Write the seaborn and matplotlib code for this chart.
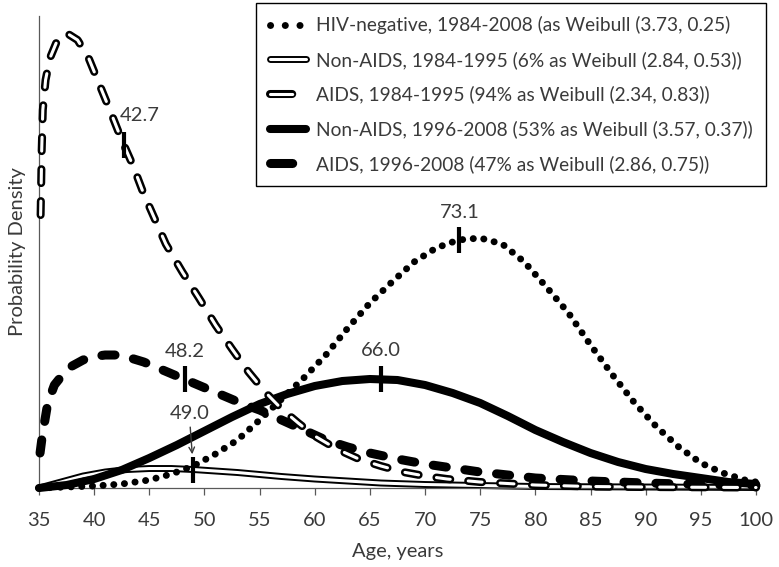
import numpy as np
import pandas as pd
import matplotlib
matplotlib.use("Agg")
import matplotlib.pyplot as plt
from matplotlib.lines import Line2D
import seaborn as sns

# ---------------- data (density in arbitrary units) ----------------
hivneg_age = [35, 40, 42.5, 45, 47, 49, 51, 53, 55, 57, 59, 61, 63, 65, 67, 69, 71, 73, 75,
              77, 79, 81, 83, 85, 87, 89, 91, 93, 95, 97, 99, 100]
hivneg_den = [0, 2, 4, 8, 14, 22, 34, 48, 68, 89, 110, 133, 160, 185, 206, 226, 240, 248, 250,
              244, 226, 201, 175, 143, 113, 85, 61, 41, 25, 15, 8, 6]

nonaids84_age = [35, 37, 39, 41, 43, 45, 47, 49, 51, 53, 55, 57, 60, 63, 66, 70, 75, 80, 90, 100]
nonaids84_den = [0, 6, 12, 16, 18.5, 19.5, 19.5, 18.5, 17, 15.5, 13.5, 11.5, 9, 7, 5, 3.5, 2.5,
                 1.5, 1, 0.5]

aids84_age = [35.15, 35.2, 35.25, 35.35, 35.6, 36, 36.6, 37.5, 38.5, 39.5, 40.5, 41.5, 42.5,
              43.5, 44.5, 45.5, 46.5, 48, 49.5, 51, 52.5, 54, 55.5, 57, 58.5, 60, 62, 64, 66,
              68, 70, 72, 75, 80, 85, 90, 100]
aids84_den = [273, 303, 338, 378, 408, 430, 446, 455, 448, 430, 403, 376, 348, 323, 294, 269,
              244, 216, 190, 163, 139, 116, 96, 79, 65, 52, 39, 29, 22, 16, 12, 9, 6, 3, 1.5,
              1, 0.5]

nonaids96_age = [35, 37.5, 40, 42.5, 45, 47.5, 50, 52.5, 55, 57.5, 60, 62.5, 65, 67.5, 70, 72.5,
                 75, 77.5, 80, 82.5, 85, 87.5, 90, 92.5, 95, 97.5, 100]
nonaids96_den = [0, 3, 9, 18, 30, 43, 57, 71, 84, 94, 102, 107, 109, 108, 103, 95, 85, 72, 58,
                 46, 35, 26, 19, 14, 10, 6, 4]

aids96_age = [35.1, 35.3, 35.8, 36.4, 37.2, 38, 39, 40, 41, 42, 43, 44.5, 46, 47.5, 49, 50.5,
              52, 53.5, 55, 57, 59, 61, 63, 65, 67.5, 70, 72.5, 75, 77.5, 80, 85, 90, 95, 100]
aids96_den = [35, 52, 85, 103, 114, 122, 128, 131.5, 133, 133, 131, 126, 119, 112, 105, 98, 91,
              84, 78, 68, 58, 48, 41, 35, 29, 24, 20, 16, 13, 10, 7, 5, 3.5, 2.5]

labels = [
    "HIV-negative, 1984-2008 (as Weibull (3.73, 0.25)",
    "Non-AIDS, 1984-1995 (6% as Weibull (2.84, 0.53))",
    "AIDS, 1984-1995 (94% as Weibull (2.34, 0.83))",
    "Non-AIDS, 1996-2008 (53% as Weibull (3.57, 0.37))",
    "AIDS, 1996-2008 (47% as Weibull (2.86, 0.75))",
]

median_hivneg = 73.1
median_nonaids84 = 49.0
median_aids84 = 42.7
median_nonaids96 = 66.0
median_aids96 = 48.2

x_ticks = [35, 40, 45, 50, 55, 60, 65, 70, 75, 80, 85, 90, 95, 100]

# ---------------- style ----------------
sns.set_theme(style="white")
plt.rcParams["font.family"] = ["Lato", "DejaVu Sans"]
plt.rcParams["lines.scale_dashes"] = False
TXT = "#3a3a3a"
AX = "#595959"

fig = plt.figure(figsize=(7.79, 5.67), dpi=100)
ax = fig.add_axes([0.050, 0.1393, 0.9205, 0.8325])

scale = 1e-4


def draw(age, den, color, lw, ls, z):
    df = pd.DataFrame({"age": age, "density": np.asarray(den, float) * scale})
    sns.lineplot(data=df, x="age", y="density", ax=ax, color=color, linewidth=lw,
                 linestyle=ls, estimator=None, sort=False, zorder=z,
                 dash_capstyle="round", solid_capstyle="round", solid_joinstyle="round")


DOT = (0, (0.1, 7.6))
DASH84 = (0, (10, 13))
DASH96 = (0, (9.5, 13.5))

# Non-AIDS 1984-1995: outlined thin line
draw(nonaids84_age, nonaids84_den, "black", 5.0, "-", 2)
draw(nonaids84_age, nonaids84_den, "white", 2.2, "-", 2.1)
# HIV-negative dotted
draw(hivneg_age, hivneg_den, "black", 5.0, DOT, 3)
# Non-AIDS 1996-2008 thick solid
draw(nonaids96_age, nonaids96_den, "black", 5.8, "-", 4)
# AIDS 1996-2008 thick dashes
draw(aids96_age, aids96_den, "black", 6.5, DASH96, 5)
# AIDS 1984-1995 outlined dashes
draw(aids84_age, aids84_den, "black", 5.8, DASH84, 6)
draw(aids84_age, aids84_den, "white", 2.2, DASH84, 6.1)
for ln in ax.lines:
    ln.set_clip_on(False)

# median marks and labels
def mark(m, age, den, dx, dy, ha="center", arrow=False):
    yv = np.interp(m, age, np.asarray(den, float) * scale)
    ax.plot([m], [yv], marker="|", ms=19, mew=3, color="black", zorder=8, linestyle="none")
    kw = dict(xy=(m, yv), xytext=(dx, dy), textcoords="offset points", ha=ha, va="center",
              fontsize=14.5, color=TXT, zorder=9)
    if arrow:
        kw["arrowprops"] = dict(arrowstyle="->", color=TXT, lw=1.0, shrinkA=1, shrinkB=11,
                                mutation_scale=10)
    ax.annotate(f"{m:.1f}", **kw)


mark(median_aids84, aids84_age, aids84_den, -3, 21, ha="left")
mark(median_aids96, aids96_age, aids96_den, 0, 20)
mark(median_nonaids84, nonaids84_age, nonaids84_den, -3, 40, arrow=True)
mark(median_nonaids96, nonaids96_age, nonaids96_den, 0, 21)
mark(median_hivneg, hivneg_age, hivneg_den, 0, 20)

# axes
ax.set_xlim(35, 100)
ax.set_ylim(0, 472 * scale)
ax.set_xticks(x_ticks)
ax.set_yticks([])
ax.tick_params(axis="x", direction="out", length=5, width=0.9, color=AX, pad=12,
               labelsize=14.5, labelcolor=TXT, bottom=True)
for s in ["top", "right"]:
    ax.spines[s].set_visible(False)
for s in ["left", "bottom"]:
    ax.spines[s].set_color(AX)
    ax.spines[s].set_linewidth(0.9)
ax.set_xlabel("Age, years", fontsize=14.5, color=TXT, labelpad=10)
ax.set_ylabel("Probability Density", fontsize=14.5, color=TXT, labelpad=9)

# legend
h_hiv = Line2D([], [], color="black", lw=5.0, linestyle=(0, (0.1, 10.5)), dash_capstyle="round")
h_n84 = (Line2D([], [], color="black", lw=5.0, solid_capstyle="round"),
         Line2D([], [], color="white", lw=2.2, solid_capstyle="round"))
h_a84 = (Line2D([], [], color="black", lw=5.8, linestyle=(0, (16, 10)), dash_capstyle="round"),
         Line2D([], [], color="white", lw=2.2, linestyle=(0, (16, 10)), dash_capstyle="round"))
h_n96 = Line2D([], [], color="black", lw=5.8, solid_capstyle="round")
h_a96 = Line2D([], [], color="black", lw=6.5, linestyle=(0, (16, 10)), dash_capstyle="round")
leg = ax.legend(handles=[h_hiv, h_n84, h_a84, h_n96, h_a96], labels=labels,
                loc="upper right", bbox_to_anchor=(766 / 779, 1 - 3 / 567),
                bbox_transform=fig.transFigure, fontsize=13.8, handlelength=1.88,
                handletextpad=0.52, labelspacing=0.87, borderpad=0.7, borderaxespad=0,
                frameon=True, fancybox=False, framealpha=1)
leg.get_frame().set_edgecolor("black")
leg.get_frame().set_linewidth(1.0)
for t in leg.get_texts():
    t.set_color(TXT)
leg.set_zorder(10)

fig.savefig("out.png", dpi=100)
